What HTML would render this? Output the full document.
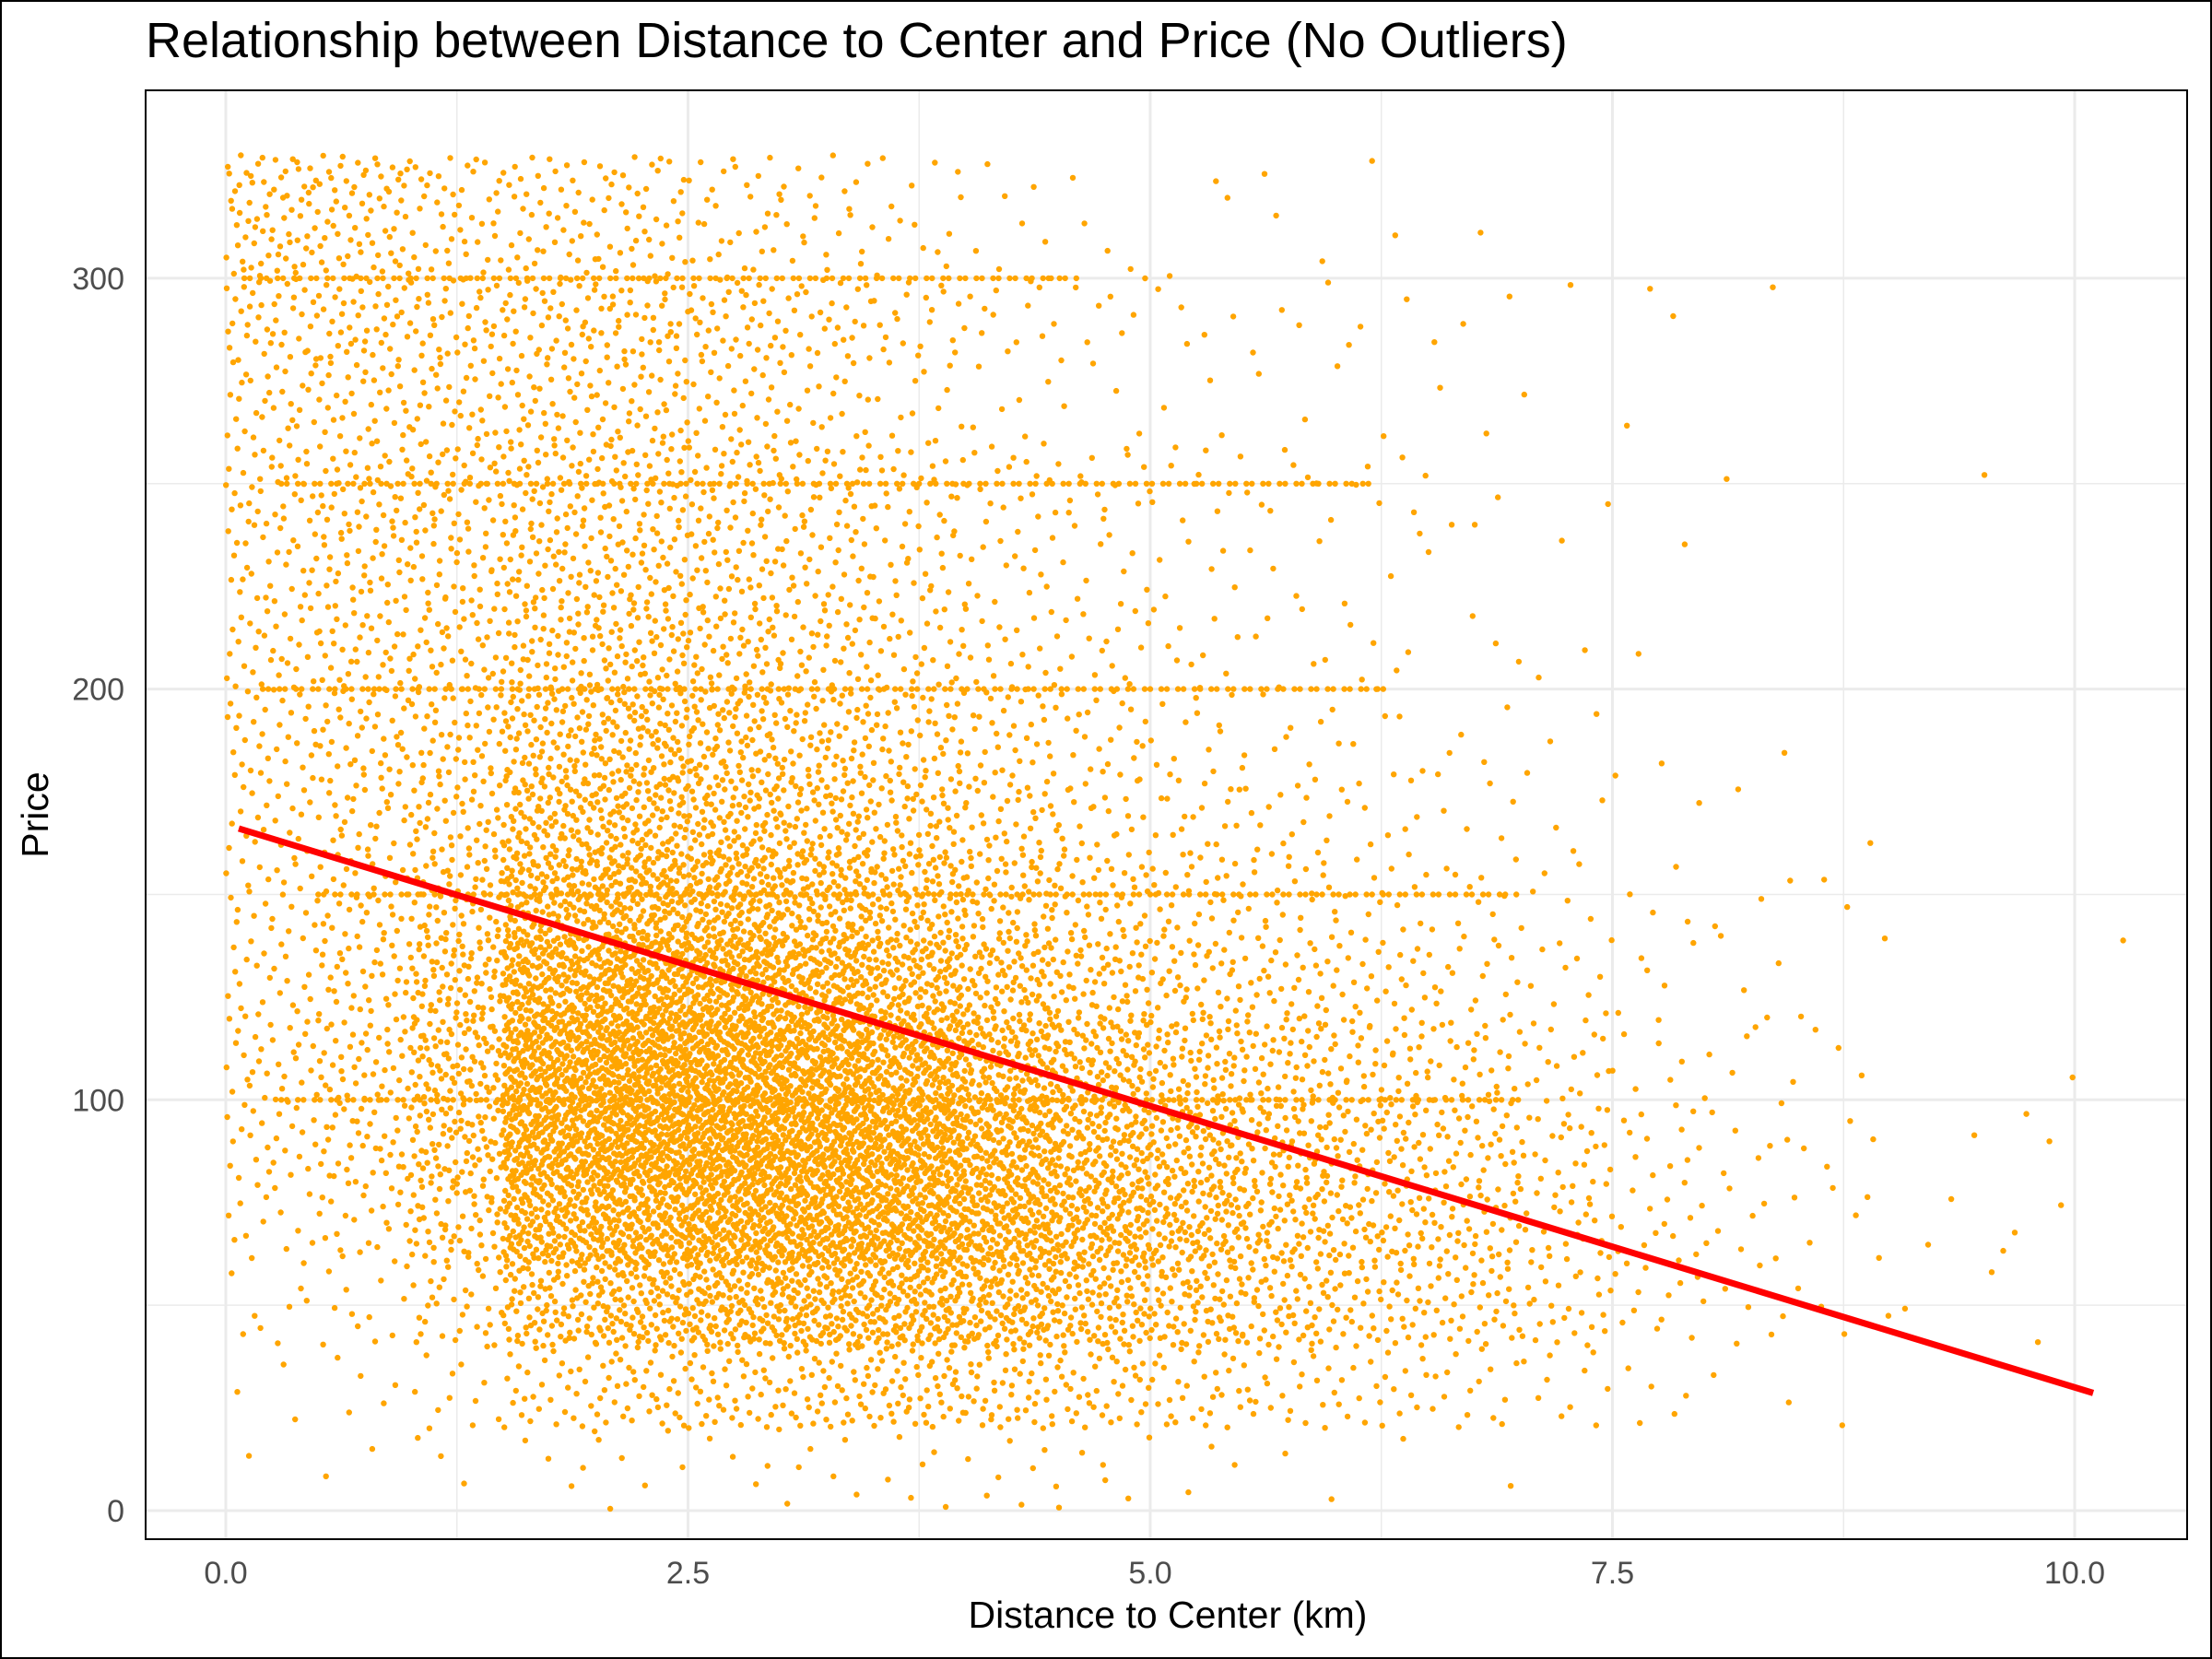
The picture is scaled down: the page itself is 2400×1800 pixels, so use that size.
<!DOCTYPE html>
<html><head><meta charset="utf-8">
<style>
html,body{margin:0;padding:0;background:#fff;}
svg{display:block;font-family:"Liberation Sans",Arial,sans-serif;}
</style></head>
<body>
<svg id="chart" width="2400" height="1800" viewBox="0 0 2400 1800" xmlns="http://www.w3.org/2000/svg">
<rect x="1" y="1" width="2398" height="1798" fill="#fff" stroke="#000" stroke-width="2"/>
<text x="158" y="62" font-size="54" fill="#000">Relationship between Distance to Center and Price (No Outliers)</text>
<g id="grid"></g>
<g id="points"></g>
<g id="reg"></g>
<rect x="158" y="98" width="2215" height="1572" fill="none" stroke="#000" stroke-width="2"/>
<g id="axes"></g>
<text x="1267" y="1766" font-size="41" text-anchor="middle" fill="#000">Distance to Center (km)</text>
<text transform="translate(52,884) rotate(-90)" font-size="41" text-anchor="middle" fill="#000">Price</text>
</svg>
<script>
const xTicks=[0,2.5,5,7.5,10];
const xTickLabels=["0.0","2.5","5.0","7.5","10.0"];
const xMinor=[1.25,3.75,6.25,8.75];
const yTicks=[0,100,200,300];
const yTickLabels=["0","100","200","300"];
const yMinor=[50,150,250];
// density counts: rows = x bins of 0.5 km, columns = price bins of 20
const xBinWidth=0.5;
const yBinWidth=20;
const counts=[
[1,3,8,15,25,30,25,25,25,30,30,30,35,30,40,45,25],
[2,5,12,25,40,45,40,35,35,40,40,40,40,35,45,40,25],
[3,12,30,60,80,90,80,60,50,45,40,40,45,35,40,30,15],
[5,30,90,180,250,250,200,140,100,80,60,55,50,40,45,30,15],
[6,40,120,220,280,280,230,160,110,90,65,55,50,40,45,30,15],
[5,45,140,240,300,280,220,150,100,80,55,45,45,30,40,20,10],
[6,50,150,250,280,250,180,120,80,60,40,35,35,20,30,15,8],
[6,55,150,230,250,200,140,90,60,45,30,25,25,12,20,10,4],
[8,50,130,190,180,140,90,60,40,30,20,15,18,6,12,6,2],
[6,40,100,150,130,100,60,40,25,20,15,10,15,4,8,3,1],
[3,30,80,110,100,70,45,30,20,12,10,6,10,3,5,2,1],
[2,25,60,80,70,55,35,22,15,8,6,4,8,2,4,2,1],
[1,20,45,60,55,40,25,15,10,6,5,3,6,2,3,1,1],
[1,15,40,50,40,30,18,10,6,4,3,2,2,2,3,1,0],
[0,10,25,30,25,18,10,6,4,2,2,1,1,1,1,0,0],
[0,5,12,15,12,8,5,4,2,1,1,1,0,1,2,0,0],
[0,2,6,8,7,5,4,3,1,1,0,0,1,0,1,0,0],
[0,1,4,5,4,3,2,2,1,0,0,0,0,0,0,0,0],
[0,0,1,2,1,0,0,0,0,0,0,0,0,0,0,0,0],
[0,0,2,3,2,1,0,0,0,0,0,0,1,0,0,0,0],
[0,0,0,0,0,0,1,0,0,0,0,0,0,0,0,0,0]
];
const stripePrices=[100,150,200,250,300];
const stripeStart=[0.3,0.5,0.2,0.3,0.1];
const stripeEnd=[7.0,7.0,6.3,6.2,4.6];
const regIntercept=167;
const regSlope=-13.7;
const regX=[0.07,10.1];

const X0=158,X1=2373,Y0=98,Y1=1670;
const R=3.2;
const xs=v=>245+v*200.6;
const ys=v=>1639-v*4.457;
const NS="http://www.w3.org/2000/svg";
function mk(tag,attrs,parent){const e=document.createElementNS(NS,tag);for(const k in attrs)e.setAttribute(k,attrs[k]);parent.appendChild(e);return e;}
const grid=document.getElementById('grid'),axes=document.getElementById('axes'),pts=document.getElementById('points'),reg=document.getElementById('reg');
xMinor.forEach(v=>{const l=mk('line',{x1:xs(v),x2:xs(v),y1:Y0,y2:Y1,stroke:'#ebebeb','stroke-width':1.5},grid);

});
yMinor.forEach(v=>{const l=mk('line',{x1:X0,x2:X1,y1:ys(v),y2:ys(v),stroke:'#ebebeb','stroke-width':1.5},grid);

});
xTicks.forEach((v,i)=>{const l=mk('line',{x1:xs(v),x2:xs(v),y1:Y0,y2:Y1,stroke:'#ebebeb','stroke-width':3},grid);


const t=mk('text',{x:xs(v),y:1718,'font-size':34,fill:'#4d4d4d','text-anchor':'middle'},axes);t.textContent=xTickLabels[i];

});
yTicks.forEach((v,i)=>{const l=mk('line',{x1:X0,x2:X1,y1:ys(v),y2:ys(v),stroke:'#ebebeb','stroke-width':3},grid);


const t=mk('text',{x:135,y:ys(v)+12,'font-size':34,fill:'#4d4d4d','text-anchor':'end'},axes);t.textContent=yTickLabels[i];

});
function halton(i,b){let f=1,r=0;while(i>0){f/=b;r+=f*(i%b);i=Math.floor(i/b);}return r;}
function dot(px,py){return `M${(px-R).toFixed(1)},${py.toFixed(1)}a${R},${R} 0 1,0 ${2*R},0a${R},${R} 0 1,0 ${-2*R},0`;}
let d='';let k=1;
counts.forEach((row,i)=>{row.forEach((n,j)=>{
  const ytop=j===row.length-1?10:yBinWidth;
  for(let m=0;m<n;m++){k++;
    const px=xs(i*xBinWidth+halton(k,2)*xBinWidth);
    const py=ys(j*yBinWidth+halton(k,3)*ytop);
    if(px>X1-4)continue;
    d+=dot(px,py);
  }
});});
stripePrices.forEach((p,i)=>{let c=0;for(let v=stripeStart[i];v<=stripeEnd[i];v+=0.03){c++;
  if(c%3===0)continue;
  d+=dot(xs(v),ys(p));}});
const dp=mk('path',{d:d,fill:'#ffa500'},pts);


const rl=mk('line',{x1:xs(regX[0]),y1:ys(regIntercept+regSlope*regX[0]),x2:xs(regX[1]),y2:ys(regIntercept+regSlope*regX[1]),stroke:'#ff0000','stroke-width':7},reg);


</script>
</body></html>
